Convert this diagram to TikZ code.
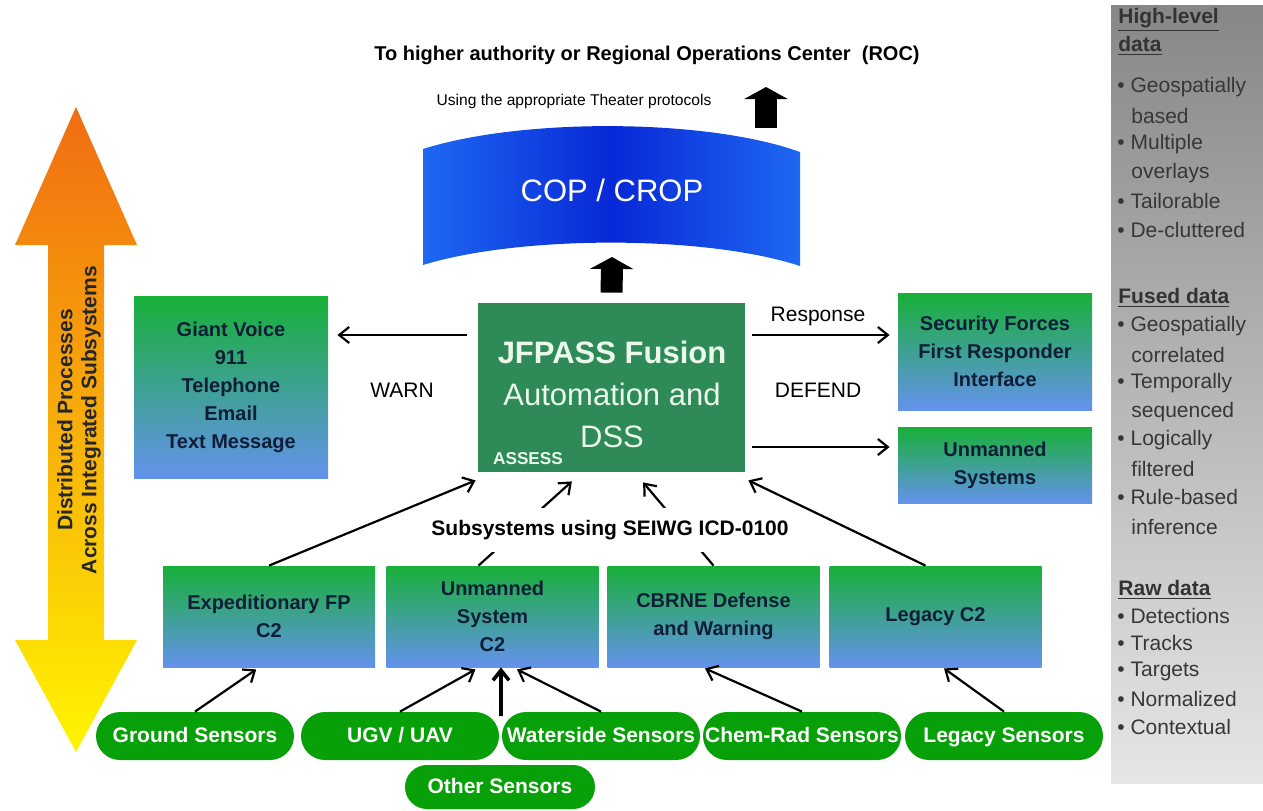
\documentclass[tikz,border=0pt]{standalone}
\usepackage{fontspec}
\setmainfont{Liberation Sans}
\usetikzlibrary{arrows.meta,calc,positioning}

\definecolor{boxgreen}{RGB}{24,176,56}
\definecolor{boxblue}{RGB}{100,146,236}
\definecolor{boxtext}{RGB}{15,30,55}
\definecolor{fusegreen}{RGB}{46,139,87}
\definecolor{fusetext}{RGB}{235,248,235}
\definecolor{sensgreen}{RGB}{8,160,8}
\definecolor{copblue}{RGB}{8,40,215}
\definecolor{copedge}{RGB}{30,104,242}
\definecolor{arrtop}{RGB}{240,108,18}
\definecolor{arrmid}{RGB}{248,175,10}
\definecolor{arrbot}{RGB}{255,245,0}
\definecolor{paneltop}{RGB}{135,135,135}
\definecolor{panelbot}{RGB}{230,230,230}
\definecolor{paneltext}{RGB}{55,55,55}

\tikzset{
  gradbox/.style={rectangle, top color=boxgreen, bottom color=boxblue, text=boxtext,
    font=\bfseries\fontsize{10}{14}\selectfont, align=center, inner sep=0pt, minimum width=97pt},
  subbox/.style={gradbox, minimum width=106pt, minimum height=50.5pt},
  sensor/.style={fill=sensgreen, text=white, rounded corners=12pt, inner sep=0pt,
    minimum width=99pt, minimum height=24pt, text height=1.6ex, text depth=0.4ex,
    font=\bfseries\fontsize{10.5}{12}\selectfont},
  flow/.style={line width=1.1pt, -{Straight Barb[length=5pt,width=8pt]}},
  blockarrow/.style={line width=11pt, -{Triangle[length=6pt,width=21.5pt]}},
  lbl/.style={font=\fontsize{10.5}{12}\selectfont},
  paneltxt/.style={anchor=west, text=paneltext, font=\fontsize{10.5}{12}\selectfont, inner sep=0pt},
  panelhead/.style={paneltxt, text=black!80, font=\bfseries\fontsize{10.5}{12}\selectfont}
}

\begin{document}
\begin{tikzpicture}[x=0.5pt,y=-0.5pt]
\useasboundingbox (0,0) rectangle (1263,810);

% left double arrow
\path[top color=arrtop, bottom color=arrbot, middle color=arrmid]
  (76,107) -- (137,245) -- (104,245) -- (104,640) -- (137,640) -- (76,752)
  -- (15,640) -- (48,640) -- (48,245) -- (15,245) -- cycle;
\node[rotate=90, align=center, text=black!85, font=\bfseries\fontsize{10.5}{12}\selectfont]
  (dist) at (79,420) {Distributed Processes\\Across Integrated Subsystems};

% grey side panel
\path[top color=paneltop, bottom color=panelbot] (1111,5) rectangle (1263,783);

% top texts
\node[font=\bfseries\fontsize{10}{12}\selectfont] (roctxt) at (647,55)
  {To higher authority or Regional Operations Center\ \ (ROC)};
\node[font=\fontsize{7.8}{9}\selectfont] (theater) at (574,101) {Using the appropriate Theater protocols};

% COP / CROP
\path[left color=copedge, right color=copedge, middle color=copblue]
  (423,149) .. controls (520,118) and (706,118) .. (800,152)
  -- (800,266) .. controls (706,235) and (520,235) .. (423,265) -- cycle;
\node[text=white, font=\fontsize{15.5}{18}\selectfont] (cop) at (612,190) {COP / CROP};
\coordinate (copin) at (612,257);
\coordinate (copout) at (766,128);
\coordinate (roc) at (766,87);

% fusion box
\node[fill=fusegreen, minimum width=133.5pt, minimum height=84.5pt, inner sep=0pt] (jf) at (611.5,387.5) {};
\node[text=fusetext, align=center, font=\fontsize{15.5}{21}\selectfont] (jftxt) at (612,394)
  {\textbf{JFPASS Fusion}\\Automation and\\DSS};
\node[text=fusetext, font=\bfseries\fontsize{8.6}{10}\selectfont] (assess) at (528,459) {ASSESS};

% warn / defend side
\node[gradbox, minimum height=91pt] (gv) at (231,387) {Giant Voice\\911\\Telephone\\Email\\Text Message};
\node[gradbox, minimum height=58.5pt] (sf) at (995,351.5) {Security Forces\\First Responder\\Interface};
\node[gradbox, minimum height=38pt] (us) at (995,465) {Unmanned\\Systems};
\node[lbl] (warn) at (402,390) {WARN};
\node[lbl] (resp) at (818,316) {Response};
\node[lbl] (defend) at (818,390) {DEFEND};
\coordinate (rowA) at (0,335);
\coordinate (rowB) at (0,447);

% subsystems
\node[subbox] (ex) at (269,616.5) {Expeditionary FP\\C2};
\node[subbox] (uc) at (492.5,616.5) {Unmanned\\System\\C2};
\node[subbox] (cb) at (713.5,616.5) {CBRNE Defense\\and Warning};
\node[subbox] (lc) at (935.5,616.5) {Legacy C2};

% sensors
\node[sensor, minimum width=95pt, minimum height=22pt, rounded corners=11pt] (os) at (500,787) {Other Sensors};
\node[sensor] (gs) at (195,736) {Ground Sensors};
\node[sensor] (ugv) at (400,736) {UGV / UAV};
\node[sensor] (ws) at (601,736) {Waterside Sensors};
\node[sensor] (cr) at (802,736) {Chem-Rad Sensors};
\node[sensor] (ls) at (1004,736) {Legacy Sensors};
\coordinate (osin) at (501,716);

% arrows
\draw[blockarrow, shorten <=5pt] (jf.north) -- (copin);
\draw[blockarrow] (copout) -- (roc);
\draw[flow, shorten <=5.5pt, shorten >=4.5pt] (jf.west |- rowA) -- (gv.east |- rowA);
\draw[flow, shorten <=3.5pt, shorten >=4pt] (jf.east |- rowA) -- (sf.west |- rowA);
\draw[flow, shorten <=3.5pt, shorten >=4pt] (jf.east |- rowB) -- (us.west |- rowB);

\draw[flow] (ex.north) -- ($(jf.south west)+(-2,8)$);
\draw[flow] ([xshift=-7pt]uc.north) -- ($(jf.south west)!0.352!(jf.south east)+(0,9)$);
\draw[flow] (cb.north) -- ($(jf.south west)!0.618!(jf.south east)+(0,10)$);
\draw[flow] ([xshift=-5pt]lc.north) -- ($(jf.south east)+(3,8)$);

\draw[flow] (gs.north) -- ($(ex.south west)!0.44!(ex.south east)+(0,2)$);
\draw[flow] (ugv.north) -- ($(uc.south west)!0.42!(uc.south east)+(0,2)$);
\draw[flow, line width=1.8pt] (osin) -- ($(uc.south west)!0.54!(uc.south east)$);
\draw[flow] (ws.north) -- ($(uc.south west)!0.615!(uc.south east)+(0,2)$);
\draw[flow] (cr.north) -- ($(cb.south west)!0.46!(cb.south east)+(0,1)$);
\draw[flow] (ls.north) -- ($(lc.south west)!0.54!(lc.south east)+(0,1)$);

\node[fill=white, inner xsep=2pt, inner ysep=6pt, font=\bfseries\fontsize{10.5}{12}\selectfont]
  (seiwg) at (610,530) {Subsystems using SEIWG ICD-0100};

% panel text
\node[panelhead] (hl1) at (1118,20) {\underline{High-level}};
\node[panelhead] (hl2) at (1118,46) {\underline{data}};
\node[paneltxt] (hl3) at (1117,87) {\textbullet\ Geospatially};
\node[paneltxt] (hl4) at (1131,116) {based};
\node[paneltxt] (hl5) at (1117,144) {\textbullet\ Multiple};
\node[paneltxt] (hl6) at (1131,173) {overlays};
\node[paneltxt] (hl7) at (1117,201) {\textbullet\ Tailorable};
\node[paneltxt] (hl8) at (1117,230) {\textbullet\ De-cluttered};
\node[panelhead] (fd1) at (1118,298) {\underline{Fused data}};
\node[paneltxt] (fd2) at (1117,326) {\textbullet\ Geospatially};
\node[paneltxt] (fd3) at (1131,355) {correlated};
\node[paneltxt] (fd4) at (1117,383) {\textbullet\ Temporally};
\node[paneltxt] (fd5) at (1131,412) {sequenced};
\node[paneltxt] (fd6) at (1117,440) {\textbullet\ Logically};
\node[paneltxt] (fd7) at (1131,469) {filtered};
\node[paneltxt] (fd8) at (1117,497) {\textbullet\ Rule-based};
\node[paneltxt] (fd9) at (1131,527) {inference};
\node[panelhead] (rd1) at (1118,590) {\underline{Raw data}};
\node[paneltxt] (rd2) at (1117,616) {\textbullet\ Detections};
\node[paneltxt] (rd3) at (1117,643) {\textbullet\ Tracks};
\node[paneltxt] (rd4) at (1117,671) {\textbullet\ Targets};
\node[paneltxt] (rd5) at (1117,699) {\textbullet\ Normalized};
\node[paneltxt] (rd6) at (1117,727) {\textbullet\ Contextual};

\end{tikzpicture}
\end{document}
